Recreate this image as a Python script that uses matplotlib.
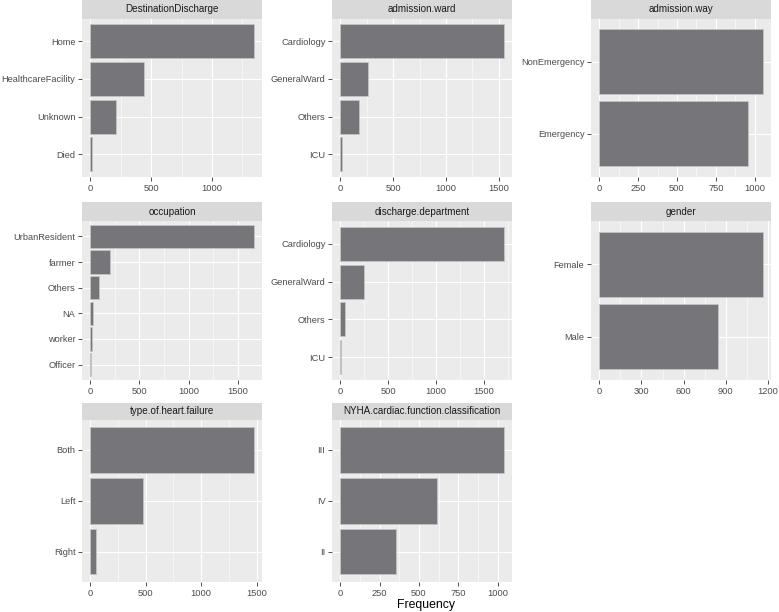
import matplotlib
matplotlib.use("Agg")
import matplotlib.pyplot as plt
import numpy as np

plt.rcParams['font.family'] = ['Liberation Sans', 'DejaVu Sans']

# ---- data (categories listed top to bottom) ----
dest_cats = ["Home", "HealthcareFacility", "Unknown", "Died"]
dest_vals = [1343, 438, 212, 15]

ward_cats = ["Cardiology", "GeneralWard", "Others", "ICU"]
ward_vals = [1547, 265, 180, 16]

way_cats = ["NonEmergency", "Emergency"]
way_vals = [1052, 956]

occ_cats = ["UrbanResident", "farmer", "Others", "NA", "worker", "Officer"]
occ_vals = [1663, 200, 91, 30, 17, 7]

dis_cats = ["Cardiology", "GeneralWard", "Others", "ICU"]
dis_vals = [1705, 243, 52, 8]

gender_cats = ["Female", "Male"]
gender_vals = [1162, 846]

hf_cats = ["Both", "Left", "Right"]
hf_vals = [1475, 479, 54]

nyha_cats = ["III", "IV", "II"]
nyha_vals = [1039, 617, 352]

titles = ["DestinationDischarge", "admission.ward", "admission.way",
          "occupation", "discharge.department", "gender",
          "type.of.heart.failure", "NYHA.cardiac.function.classification"]
ticks = [[0, 500, 1000], [0, 500, 1000, 1500], [0, 250, 500, 750, 1000],
         [0, 500, 1000, 1500], [0, 500, 1000, 1500], [0, 300, 600, 900, 1200],
         [0, 500, 1000, 1500], [0, 250, 500, 750, 1000]]
panels = [(dest_cats, dest_vals), (ward_cats, ward_vals), (way_cats, way_vals),
          (occ_cats, occ_vals), (dis_cats, dis_vals), (gender_cats, gender_vals),
          (hf_cats, hf_vals), (nyha_cats, nyha_vals)]

W, H = 779, 612
fig = plt.figure(figsize=(W / 100, H / 100), dpi=100)

col_l = [82, 332, 591]
col_r = [262, 512, 771]
row_t = [18.5, 221, 419.5]
row_b = [177, 380, 582]
strip_t = [0, 202, 402.5]

def rect(l, t, r, b):
    return [l / W, 1 - b / H, (r - l) / W, (b - t) / H]

BAR = "#76767a"
for i, ((cats, vals), title, tk) in enumerate(zip(panels, titles, ticks)):
    r, c = divmod(i, 3)
    ax = fig.add_axes(rect(col_l[c], row_t[r], col_r[c], row_b[r]))
    ax.set_facecolor("#EBEBEB")
    n = len(cats)
    ypos = np.arange(n)[::-1] + 1
    ax.barh(ypos, vals, height=0.9, color=BAR, edgecolor="#c4c4c4",
            linewidth=0.6, zorder=3)
    mx = max(vals)
    ax.set_xticks(tk)
    ax.set_xticklabels([str(t) for t in tk])
    step = tk[1] - tk[0]
    minors = [t + step / 2 for t in tk]
    ax.set_xticks(minors, minor=True)
    ax.set_yticks(ypos)
    ax.set_yticklabels(cats)
    ax.set_xlim(-0.05 * mx, 1.05 * mx)
    ax.set_ylim(0.4, n + 0.6)
    ax.grid(True, which="major", color="white", linewidth=0.85, zorder=1)
    ax.grid(True, which="minor", axis="x", color="white", linewidth=0.4, zorder=1)
    ax.set_axisbelow(True)
    for s in ax.spines.values():
        s.set_visible(False)
    ax.tick_params(axis="both", which="major", length=2.75, width=0.6,
                   color="#333333", labelsize=6.7, labelcolor="#4D4D4D", pad=2)
    ax.tick_params(axis="x", which="major", pad=2.5)
    ax.tick_params(axis="x", which="minor", length=0)
    # strip
    sax = fig.add_axes(rect(col_l[c], strip_t[r], col_r[c], row_t[r]))
    sax.set_facecolor("#D9D9D9")
    sax.set_xticks([]); sax.set_yticks([])
    for s in sax.spines.values():
        s.set_visible(False)
    sax.text(0.5, 0.5, title, ha="center", va="center", fontsize=7.1,
             color="#1A1A1A", transform=sax.transAxes)

fig.text((82 + 771) / 2 / W, 1 - 605 / H, "Frequency", ha="center", va="center",
         fontsize=8.8, color="black")

fig.savefig("out.png", dpi=100, facecolor="white")
